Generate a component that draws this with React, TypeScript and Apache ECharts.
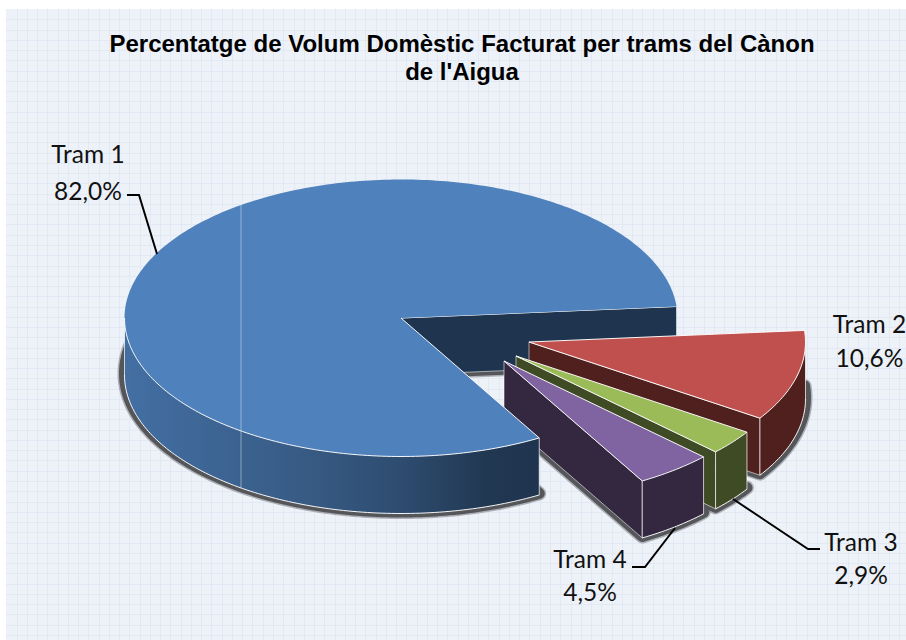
import React, { useEffect, useRef } from "react";
import * as echarts from "echarts";

const categories = ["Tram 1", "Tram 2", "Tram 3", "Tram 4"];
const shares = [82.0, 10.6, 2.9, 4.5];
const titleLines = ["Percentatge de Volum Domèstic Facturat per trams del Cànon", "de l'Aigua"];

const topColours = ["#4f81bd", "#c0504d", "#9bbb59", "#8064a2"];
const wallColours = ["#1f344f", "#4f201e", "#3f4b24", "#342840"];

const CX = 401, CY = 318, RX = 276.5, RY = 138.5, DEPTH = 57;
const START_ANGLE = 60; // degrees clockwise from +x on screen
const offsets = [[0, 0], [128, 24], [115, 38], [103, 43]];
const orderZ = [40, 10, 20, 30];
const labelPos = [[88, 153, 190], [869.5, 323, 357], [861, 541, 574], [590, 558, 591]];
const leaders = [
  [[157, 254], [139, 195], [127, 195]],
  null,
  [[733, 499], [808, 549], [820, 549]],
  [[675, 528], [645, 567], [632, 567]],
];

const WHITE = "rgba(255,255,255,0.95)";

function renderSlice(params: any) {
  const i = params.dataIndex;
  const total = shares.reduce((a, b) => a + b, 0);
  let a0 = START_ANGLE;
  for (let k = 0; k < i; k++) a0 += (shares[k] / total) * 360;
  const a1 = a0 + (shares[i] / total) * 360;
  const ox = CX + offsets[i][0], oy = CY + offsets[i][1];
  const pt = (deg: number, dy = 0) => {
    const r = (deg * Math.PI) / 180;
    return [ox + RX * Math.cos(r), oy + RY * Math.sin(r) + dy];
  };
  const arc = (s: number, e: number, dy = 0) => {
    const out: number[][] = [];
    const n = Math.max(2, Math.ceil(Math.abs(e - s)));
    for (let j = 0; j <= n; j++) out.push(pt(s + ((e - s) * j) / n, dy));
    return out;
  };
  const centre = [ox, oy];
  const centreLow = [ox, oy + DEPTH];
  const base = i === 0 ? orderZ[0] : orderZ[i];
  const children: any[] = [];

  // soft shadow under the bottom face
  const floor = [centreLow, ...arc(a0, a1, DEPTH)].map((p) => [p[0], p[1] - 1.5]);
  const shZ = i === 0 ? 0 : base - 5;
  children.push({ type: "polygon", z2: shZ, shape: { points: floor }, style: { fill: "rgba(80,80,84,0.4)", stroke: "rgba(80,80,84,0.4)", lineWidth: 14, lineJoin: "round" } });
  children.push({ type: "polygon", z2: shZ + 1, shape: { points: floor }, style: { fill: "#55565a", stroke: "#55565a", lineWidth: 11, lineJoin: "round" } });

  // end-radial wall
  const endPt = pt(a1), endLow = pt(a1, DEPTH);
  const radialZ = i === 0 ? 2 : base;
  children.push({
    type: "polygon", z2: radialZ,
    shape: { points: [centre, endPt, endLow, centreLow] },
    style: { fill: wallColours[i], stroke: "rgba(255,255,255,0.55)", lineWidth: 1 },
  });

  // outer wall, only where it faces the viewer
  const vs = a0 % 360;
  const span = a1 - a0;
  const wStart = vs > 180 ? vs - 360 : vs;
  const visStart = Math.max(wStart, 0);
  const visEnd = Math.min(wStart + span, 180);
  if (visEnd > visStart) {
    const upper = arc(visStart, visEnd);
    const lower = arc(visEnd, visStart, DEPTH);
    const fill =
      i === 0
        ? {
            type: "linear", x: 0, y: 0, x2: 1, y2: 0,
            colorStops: [
              { offset: 0, color: "#436fa3" },
              { offset: 0.45, color: "#375a83" },
              { offset: 0.68, color: "#2d4b6e" },
              { offset: 0.87, color: "#213852" },
              { offset: 1, color: "#1f344f" },
            ],
          }
        : wallColours[i];
    children.push({ type: "polygon", z2: base + 1, shape: { points: [...upper, ...lower] }, style: { fill } });
    children.push({ type: "polyline", z2: base + 2, shape: { points: arc(visStart, visEnd, DEPTH) }, style: { fill: "none", stroke: WHITE, lineWidth: 1 } });
    const p0 = pt(visStart), p1 = pt(visEnd);
    [[p0, pt(visStart, DEPTH)], [p1, pt(visEnd, DEPTH)]].forEach(([a, b]) => {
      children.push({ type: "polyline", z2: base + 2, shape: { points: [a, b] }, style: { fill: "none", stroke: "rgba(255,255,255,0.7)", lineWidth: 1 } });
    });
  }

  // top face
  const topPts = [centre, ...arc(a0, a1)];
  children.push({ type: "polygon", z2: base + 3, shape: { points: topPts }, style: { fill: topColours[i] } });
  if (i === 0) {
    children.push({ type: "polyline", z2: base + 4, shape: { points: [[ox, oy], ...arc(a0, 180)] }, style: { fill: "none", stroke: WHITE, lineWidth: 1 } });
    children.push({ type: "polyline", z2: 3, shape: { points: [centre, endPt] }, style: { fill: "none", stroke: WHITE, lineWidth: 1.2 } });
    const seam = (Math.acos((241 - CX) / RX) * 180) / Math.PI;
    children.push({ type: "polyline", z2: base + 4, shape: { points: [pt(-seam), pt(seam, DEPTH)] }, style: { fill: "none", stroke: "rgba(205,220,235,0.55)", lineWidth: 1 } });
  } else {
    children.push({ type: "polygon", z2: base + 4, shape: { points: topPts }, style: { fill: "none", stroke: WHITE, lineWidth: 1 } });
  }

  // leader line and labels
  if (leaders[i]) {
    children.push({ type: "polyline", z2: 100, shape: { points: leaders[i] }, style: { fill: "none", stroke: "#000", lineWidth: 2 } });
  }
  const [lx, ly1, ly2] = labelPos[i];
  const txt = (text: string, y: number) => ({
    type: "text", z2: 100, silent: true,
    style: { text, x: lx, y, align: "center", verticalAlign: "middle", textAlign: "center", textVerticalAlign: "middle", fontFamily: "Lato", fontSize: 24.5, fill: "#111" },
  });
  children.push(txt(categories[i], ly1));
  children.push(txt(shares[i].toFixed(1).replace(".", ",") + "%", ly2));
  return { type: "group", children };
}

function backgroundGraphics() {
  const out: any[] = [
    { type: "rect", z: -10, shape: { x: 6, y: 9, width: 900, height: 631 }, style: { fill: "#edf1f8" }, silent: true },
  ];
  for (let x = 16.5; x < 906; x += 10.26) {
    const xx = Math.round(x) + 0.5;
    out.push({ type: "line", z: -9, shape: { x1: xx, y1: 9, x2: xx, y2: 640 }, style: { stroke: "#e3e9f4", lineWidth: 1 }, silent: true });
  }
  for (let y = 19.3; y < 640; y += 10.26) {
    const yy = Math.round(y) + 0.5;
    out.push({ type: "line", z: -9, shape: { x1: 6, y1: yy, x2: 906, y2: yy }, style: { stroke: "#e3e9f4", lineWidth: 1 }, silent: true });
  }
  return out;
}

export default function App() {
  const ref = useRef<HTMLDivElement>(null);
  useEffect(() => {
    document.body.style.margin = "0";
    const chart = echarts.init(ref.current!, undefined, { renderer: "svg" });
    chart.setOption({
      animation: false,
      backgroundColor: "#ffffff",
      title: {
        text: titleLines.join("\n"),
        left: 457,
        top: 24,
        textAlign: "center",
        textStyle: { fontFamily: "Liberation Sans", fontWeight: "bold", fontSize: 24, lineHeight: 28, color: "#000" },
      },
      graphic: backgroundGraphics(),
      series: [
        {
          type: "custom",
          coordinateSystem: "none",
          silent: true,
          data: shares.map((v, i) => ({ name: categories[i], value: v })),
          renderItem: renderSlice,
        },
      ],
    });
    return () => chart.dispose();
  }, []);
  return <div ref={ref} style={{ position: "absolute", left: 0, top: 0, width: 906, height: 640 }} />;
}
